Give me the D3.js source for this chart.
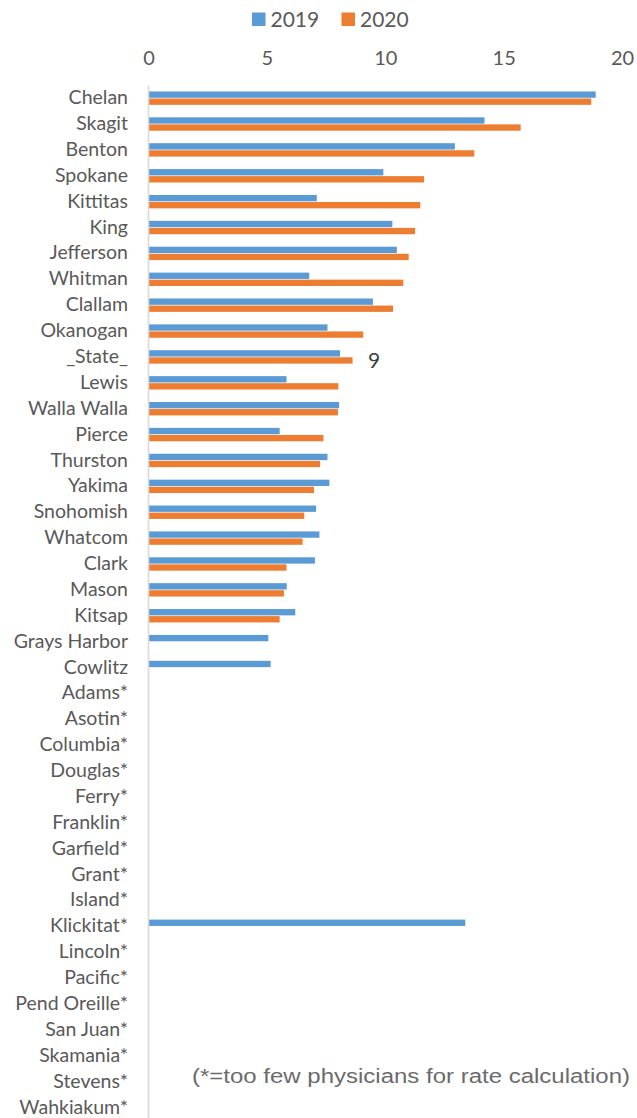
<!DOCTYPE html>
<html>
<head>
<meta charset="utf-8">
<script src="https://cdn.jsdelivr.net/npm/d3@7"></script>
<style>
    body { margin: 0; background: #fff; }
    svg { display: block; }
    .cat text { font-family: Lato, "Open Sans", sans-serif; font-size: 19.5px; fill: #595959; }
    .ticks text { font-family: Lato, "Open Sans", sans-serif; font-size: 20px; fill: #595959; }
    .legend text { font-family: Lato, "Open Sans", sans-serif; font-size: 21px; fill: #595959; }
</style>
</head>
<body>
<div id="main"></div>
<script>
const ctx = {
    w: 637,
    h: 1118,
    X0: 148.5,
    X1: 622,
    TOP: 85,
    ROW: 25.88,
    AXIS_X: 148,
};

const counties = ["Chelan", "Skagit", "Benton", "Spokane", "Kittitas", "King", "Jefferson",
                  "Whitman", "Clallam", "Okanogan", "_State_", "Lewis", "Walla Walla", "Pierce",
                  "Thurston", "Yakima", "Snohomish", "Whatcom", "Clark", "Mason", "Kitsap",
                  "Grays Harbor", "Cowlitz", "Adams*", "Asotin*", "Columbia*", "Douglas*",
                  "Ferry*", "Franklin*", "Garfield*", "Grant*", "Island*", "Klickitat*",
                  "Lincoln*", "Pacific*", "Pend Oreille*", "San Juan*", "Skamania*",
                  "Stevens*", "Wahkiakum*"];

const rate2019 = [18.89, 14.19, 12.94, 9.92, 7.11, 10.30, 10.49,
                  6.79, 9.48, 7.56, 8.09, 5.83, 8.05, 5.54,
                  7.56, 7.64, 7.08, 7.22, 7.03, 5.84, 6.20,
                  5.06, 5.16, null, null, null, null,
                  null, null, null, null, null, 13.38,
                  null, null, null, null, null,
                  null, null];

const rate2020 = [18.70, 15.72, 13.76, 11.64, 11.48, 11.26, 10.99,
                  10.76, 10.33, 9.07, 8.62, 8.02, 8.00, 7.39,
                  7.25, 6.99, 6.58, 6.51, 5.83, 5.72, 5.54,
                  null, null, null, null, null, null,
                  null, null, null, null, null, null,
                  null, null, null, null, null,
                  null, null];

const seriesNames = ["2019", "2020"];
const seriesColors = ["#5B9BD5", "#ED7D31"];
const xTicks = [0, 5, 10, 15, 20];

// single data label shown in the original chart
const dataLabels = [{county: "_State_", series: "2020", text: "9"}];

const footnote = "(*=too few physicians for rate calculation)";

function buildRows(){
    let rows = [];
    counties.forEach(function(c, i){
        rows.push({county: c, series: "2019", value: rate2019[i]});
        rows.push({county: c, series: "2020", value: rate2020[i]});
    });
    return rows.filter((d) => (d.value !== null));
};

function createViz(){
    let svg = d3.select("#main").append("svg")
                .attr("width", ctx.w)
                .attr("height", ctx.h);

    let x = d3.scaleLinear().domain([0, 20]).range([ctx.X0, ctx.X1]);
    let y = d3.scaleBand().domain(counties)
              .range([ctx.TOP, ctx.TOP + counties.length * ctx.ROW]);
    // position of the two series inside one category band
    let ySub = d3.scaleBand().domain(seriesNames).range([-6.5, 6.9]).paddingInner(0.1);
    let color = d3.scaleOrdinal().domain(seriesNames).range(seriesColors);

    // legend
    let legend = svg.append("g").attr("class", "legend");
    let legX = [252, 341.5];
    seriesNames.forEach(function(s, i){
        legend.append("rect")
              .attr("x", legX[i]).attr("y", 12.5)
              .attr("width", 13.5).attr("height", 13.5)
              .attr("fill", color(s));
        legend.append("text")
              .attr("x", legX[i] + 18.5).attr("y", 26.5)
              .text(s);
    });

    // top value axis, labels only
    svg.append("g")
       .attr("class", "ticks")
       .attr("transform", "translate(0,65)")
       .call(d3.axisTop(x).tickValues(xTicks).tickSize(0).tickPadding(0))
       .call((g) => g.select(".domain").remove())
       .selectAll("text")
       .attr("dy", 0);

    // bars
    let rows = buildRows();
    svg.append("g")
       .attr("id", "bars")
       .selectAll("rect")
       .data(rows)
       .enter()
       .append("rect")
       .attr("x", x(0))
       .attr("y", (d) => (y(d.county) + y.bandwidth() / 2 + ySub(d.series)))
       .attr("width", (d) => (x(d.value) - x(0)))
       .attr("height", ySub.bandwidth())
       .attr("fill", (d) => (color(d.series)));

    // category axis
    let cat = svg.append("g")
                 .attr("class", "cat")
                 .attr("transform", "translate(" + ctx.AXIS_X + ",0)")
                 .call(d3.axisLeft(y).tickSize(0).tickPadding(20));
    cat.select(".domain")
       .attr("stroke", "#D9D9D9")
       .attr("stroke-width", 1.6);

    // data label
    svg.append("g")
       .selectAll("text")
       .data(dataLabels)
       .enter()
       .append("text")
       .attr("x", (d) => {
           let i = counties.indexOf(d.county);
           let v = d.series === "2020" ? rate2020[i] : rate2019[i];
           return x(v) + 15.5;
       })
       .attr("y", (d) => (y(d.county) + y.bandwidth() / 2 + ySub(d.series) + ySub.bandwidth() / 2))
       .attr("dy", "0.36em")
       .attr("font-family", "Lato, sans-serif")
       .attr("font-size", "21px")
       .attr("fill", "#404040")
       .text((d) => (d.text));

    svg.append("text")
       .attr("x", 192)
       .attr("y", 1083)
       .attr("font-family", "'Liberation Sans', Arial, sans-serif")
       .attr("font-size", "20px")
       .attr("fill", "#6b6b6b")
       .attr("textLength", 438)
       .attr("lengthAdjust", "spacingAndGlyphs")
       .text(footnote);
};

createViz();
</script>
</body>
</html>
